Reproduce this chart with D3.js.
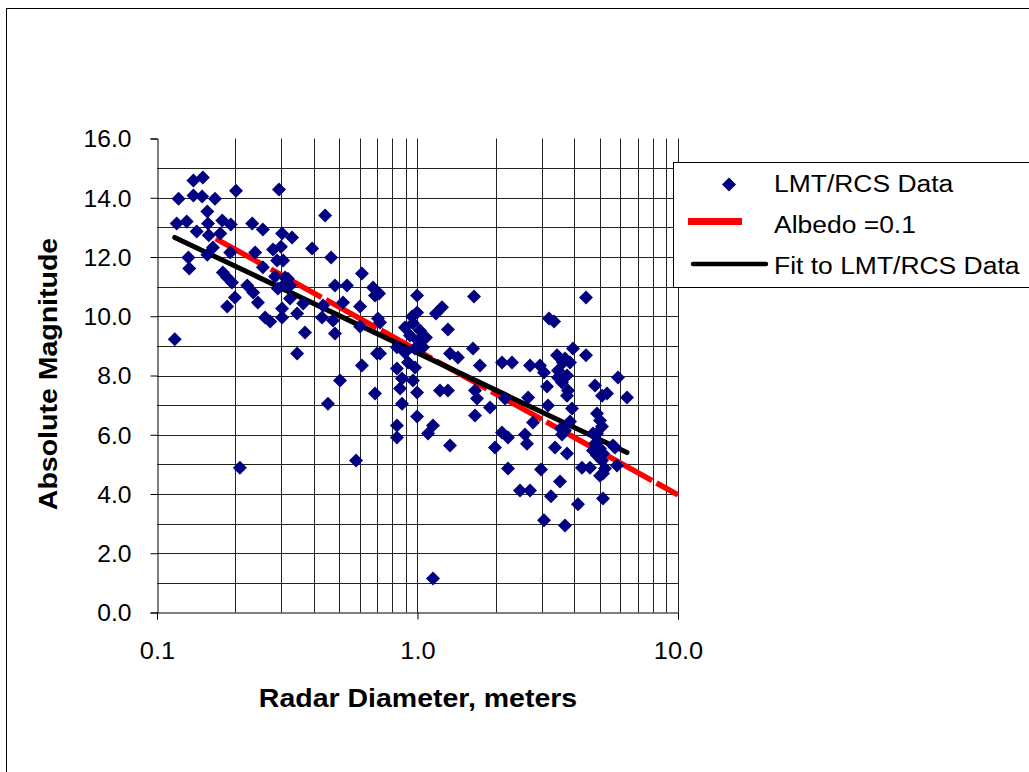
<!DOCTYPE html>
<html><head><meta charset="utf-8">
<script src="https://cdn.jsdelivr.net/npm/d3@7"></script>
<style>body{margin:0;background:#fff} svg{display:block} text{font-family:"Liberation Sans",Arial,Helvetica,sans-serif}</style>
</head><body>
<svg id="chart" width="1029" height="772"></svg>
<script>
// ---- data ----
const diameters = [
0.117,0.119,0.121,0.130,0.138,0.138,0.142,0.132,0.133,0.150,0.149,0.156,0.157,0.158,0.167,0.178,0.175,0.164,0.156,0.192,
0.201,0.179,0.186,0.194,0.208,0.186,0.199,0.222,0.232,0.255,0.238,0.255,0.234,0.244,0.260,0.272,0.279,0.299,0.289,0.294,
0.302,0.330,0.305,0.284,0.310,0.305,0.318,0.291,0.324,0.302,0.302,0.345,0.345,0.324,0.364,0.370,0.394,0.442,0.466,0.430,
0.434,0.453,0.482,0.536,0.518,0.474,0.482,0.612,0.602,0.602,0.675,0.687,0.705,0.699,0.612,0.504,0.687,0.581,0.712,0.718,
0.718,0.834,0.834,0.834,0.834,0.872,0.857,0.872,0.895,0.920,0.936,0.961,0.961,0.978,0.978,0.996,0.996,1.004,1.022,1.050,
0.996,0.996,1.147,1.098,1.147,1.177,1.242,1.220,1.309,1.309,1.333,1.430,1.333,0.953,1.078,0.895,1.648,1.633,1.737,1.662,
1.692,1.662,1.898,1.984,2.111,2.305,2.167,2.111,2.225,2.225,2.475,2.703,2.587,2.633,2.658,2.703,2.776,2.979,3.059,2.953,
3.059,3.141,3.169,3.198,3.343,3.432,3.683,3.850,3.619,3.462,3.748,3.462,3.587,3.782,3.748,3.952,4.434,4.434,4.802,5.108,
5.338,5.884,6.371,3.918,3.850,3.683,3.587,3.372,3.748,4.887,5.019,5.108,4.887,4.887,5.019,4.887,5.108,5.245,5.019,5.730,
5.832,4.281,4.594,3.255,3.524,3.683,4.132,5.154,4.718,4.802,4.718,5.631,5.154,5.154,3.556,0.191
];
const magnitudes = [
9.22,13.13,13.97,13.20,14.58,14.08,12.86,11.98,11.61,14.68,14.04,13.54,13.13,12.73,13.97,13.23,12.79,12.32,12.08,13.10,
14.24,11.48,11.31,11.14,4.89,10.33,10.63,11.04,13.13,12.93,12.15,11.65,10.80,10.46,9.96,9.82,12.25,12.35,11.88,14.28,
12.79,12.66,11.88,11.34,11.31,11.04,11.27,10.94,10.60,10.26,9.96,10.09,8.74,11.04,10.43,9.45,12.29,13.40,11.98,9.96,
10.36,7.05,11.04,11.04,10.46,9.86,9.42,11.44,10.33,9.65,10.97,10.70,9.92,8.74,8.34,7.83,7.39,5.13,10.77,9.79,
8.74,8.95,8.24,6.31,5.91,7.90,7.56,7.05,9.62,8.44,9.35,9.76,7.83,8.91,8.27,10.70,10.13,9.18,9.52,8.95,
7.43,6.62,6.31,6.04,1.15,10.09,10.30,7.49,7.49,9.55,8.74,8.61,5.64,9.99,9.28,8.78,10.67,8.91,8.34,7.49,
7.22,6.65,6.92,5.57,8.44,8.44,7.22,6.08,5.91,4.86,4.12,4.12,6.01,5.70,7.26,8.34,6.41,4.83,3.11,8.34,
8.10,7.63,6.99,9.92,9.82,8.68,8.57,8.44,8.44,8.17,8.00,7.93,7.76,7.49,7.32,8.91,10.63,8.68,7.66,7.32,
7.39,7.93,7.26,6.89,6.45,6.14,6.01,5.57,5.37,6.72,6.48,6.28,6.04,5.74,5.54,5.30,5.13,4.86,4.62,5.57,
4.96,4.89,4.89,3.92,4.42,2.94,3.65,3.85,6.04,5.70,5.47,5.64,5.37,4.69,6.21,12.15
];
const albedoD = [0.168, 10.0];
const albedoH = [12.62, 3.97];
const fitD = [0.117, 6.37];
const fitH = [12.66, 5.40];
const yTicks = [0,2,4,6,8,10,12,14,16];
const xTicks = [0.1,1,10];
const hGrid = [1,2,3,4,5,6,7,8,9,10,11,12,13,14,15];
const vGrid = [0.2,0.3,0.4,0.5,0.6,0.7,0.8,0.9,1,2,3,4,5,6,7,8,9,10];
const seriesNames = ["LMT/RCS Data","Albedo =0.1","Fit to LMT/RCS Data"];
const xTitle = "Radar Diameter, meters";
const yTitle = "Absolute Magnitude";

// ---- drawing ----
const svg = d3.select("#chart");
const x = d3.scaleLog().domain([0.1,10]).range([157,678]);
const y = d3.scaleLinear().domain([0,16]).range([612.5,138.5]);

function stretch(sel, f){ sel.each(function(){ const L=this.getComputedTextLength(); this.setAttribute("textLength", (L*f).toFixed(1)); this.setAttribute("lengthAdjust","spacingAndGlyphs"); }); }

// outer frame
svg.append("rect").attr("x",6.5).attr("y",8.5).attr("width",1100).attr("height",1000)
  .attr("fill","none").attr("stroke","#000").attr("stroke-width",1);

// gridlines
const g = svg.append("g");
g.selectAll("line.h").data(hGrid).join("line").attr("class","h")
  .attr("x1",x(0.1)).attr("x2",x(10)).attr("y1",d=>Math.round(y(d))+0.5).attr("y2",d=>Math.round(y(d))+0.5)
  .attr("stroke","#222").attr("stroke-width",1);
g.selectAll("line.v").data(vGrid).join("line").attr("class","v")
  .attr("x1",d=>Math.round(x(d))+0.5).attr("x2",d=>Math.round(x(d))+0.5).attr("y1",y(16)).attr("y2",y(0))
  .attr("stroke","#222").attr("stroke-width",1);

// axes
const yAxis = svg.append("g").attr("transform","translate(157.5,0)")
  .call(d3.axisLeft(y).tickValues(yTicks).tickFormat(d3.format(".1f")).tickSizeOuter(0).tickSize(7).tickPadding(19));
const xAxis = svg.append("g").attr("transform","translate(0,612.5)")
  .call(d3.axisBottom(x).tickValues(xTicks).tickFormat(d3.format(".1f")).tickSizeOuter(0).tickSize(7).tickPadding(23));
[yAxis,xAxis].forEach(a=>{ a.select(".domain").attr("stroke","#000"); a.selectAll(".tick line").attr("stroke","#000");
  a.selectAll("text").attr("fill","#000").attr("font-size",null).style("font-size","23.5px"); });
yAxis.selectAll("text").attr("dy","0.36em");
stretch(yAxis.selectAll("text"),1.05);
stretch(xAxis.selectAll("text"),1.08);

// albedo line (red, dashed)
const line = d3.line().x(d=>x(d[0])).y(d=>y(d[1]));
svg.append("path").datum(d3.zip(albedoD,albedoH)).attr("d",line)
  .attr("fill","none").attr("stroke","#ff0000").attr("stroke-width",5.5).attr("stroke-dasharray","58,5");
// fit line (black)
svg.append("path").datum(d3.zip(fitD,fitH)).attr("d",line)
  .attr("fill","none").attr("stroke","#000").attr("stroke-width",5).attr("stroke-linecap","round");

// data points
const diamond = r => `M0,${-r}L${r},0L0,${r}L${-r},0Z`;
svg.append("g").selectAll("path").data(d3.zip(diameters,magnitudes)).join("path")
  .attr("d",diamond(7)).attr("transform",d=>`translate(${x(d[0])},${y(d[1])})`)
  .attr("fill","#000080");

// axis titles
const xt = svg.append("text").attr("x",418).attr("y",707).attr("text-anchor","middle")
  .style("font-size","25px").style("font-weight","bold").text(xTitle);
stretch(xt,1.14);
const yt = svg.append("text").attr("transform","translate(57,374) rotate(-90)").attr("text-anchor","middle")
  .style("font-size","25px").style("font-weight","bold").text(yTitle);
stretch(yt,1.14);

// legend
const lg = svg.append("g");
lg.append("rect").attr("x",673.5).attr("y",162.5).attr("width",500).attr("height",125)
  .attr("fill","#fff").attr("stroke","#000").attr("stroke-width",1);
lg.append("path").attr("d",diamond(7)).attr("transform","translate(729,184.5)").attr("fill","#000080");
lg.append("line").attr("x1",688).attr("x2",742).attr("y1",221.5).attr("y2",221.5).attr("stroke","#ff0000").attr("stroke-width",7);
lg.append("line").attr("x1",693).attr("x2",766).attr("y1",264).attr("y2",264).attr("stroke","#000").attr("stroke-width",4.5).attr("stroke-linecap","round");
const lt = lg.selectAll("text.lab").data(seriesNames).join("text").attr("class","lab")
  .attr("x",774).attr("y",(d,i)=>[192,233,274][i]).style("font-size","23px").text(d=>d);
stretch(lt,1.15);
</script>
</body></html>
